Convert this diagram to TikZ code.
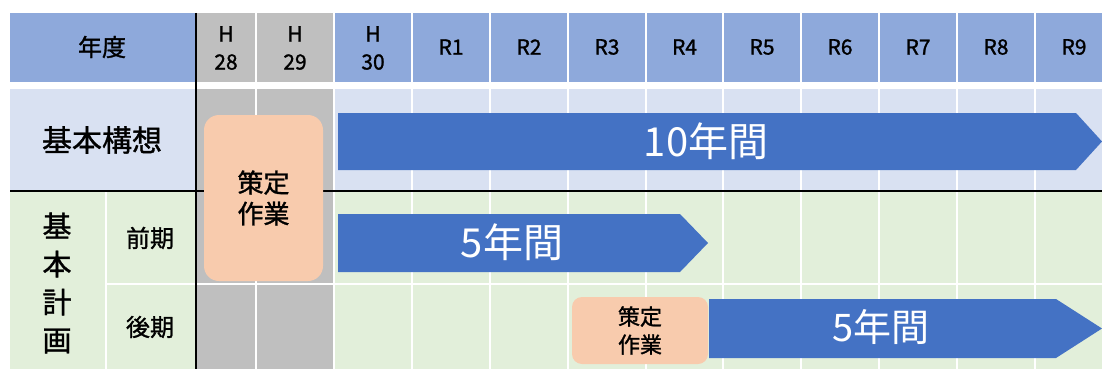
\documentclass[tikz,border=0pt]{standalone}
\usepackage{fontspec}
\setmainfont{Noto Sans CJK JP}
\newfontfamily\medfont[FakeBold=1.2]{Noto Sans CJK JP}
\definecolor{hdr}{HTML}{8EA9DB}
\definecolor{rowb}{HTML}{D9E1F2}
\definecolor{rowg}{HTML}{E2EFDA}
\definecolor{graycol}{HTML}{BFBFBF}
\definecolor{orangebox}{HTML}{F8CBAD}
\definecolor{barblue}{HTML}{4472C4}
\begin{document}
\begin{tikzpicture}[x=1pt,y=-1pt,
  lbl/.style={inner sep=0pt, align=center, text=black},
  yr/.style={lbl, font=\medfont\fontsize{21}{28}\selectfont},
  barlbl/.style={inner sep=0pt, text=white, font=\fontsize{40}{44}\selectfont},
  workbox/.style={fill=orangebox, draw=none, inner sep=0pt, align=center, text=black},
  bar/.style={fill=barblue},
  blackline/.style={draw=black, line width=1.6pt}]
\useasboundingbox (0,0) rectangle (1102,369);
\fill[white] (0,0) rectangle (1102,369);
\clip (0,0) rectangle (1102,369);
% left column cells
\fill[hdr] (10,13) rectangle (195,82);
\fill[rowb] (10,89) rectangle (195,191);
\fill[rowg] (10,192) rectangle (105,372);
\fill[rowg] (107,192) rectangle (195,283);
\fill[rowg] (107,285) rectangle (195,372);
% gray columns (H28, H29)
\foreach \a/\b in {197/255, 257/333} {
  \fill[graycol] (\a,13) rectangle (\b,82);
  \fill[graycol] (\a,89) rectangle (\b,191);
  \fill[graycol] (\a,192) rectangle (\b,283);
  \fill[graycol] (\a,285) rectangle (\b,372);
}
% year columns H30 .. R9
\foreach \a/\b in {335/411, 413/489, 491/567, 569/645, 647/722, 724/800, 802/878, 880/956, 958/1034, 1036/1112} {
  \fill[hdr] (\a,13) rectangle (\b,82);
  \fill[rowb] (\a,89) rectangle (\b,191);
  \fill[rowg] (\a,192) rectangle (\b,283);
  \fill[rowg] (\a,285) rectangle (\b,372);
}
% black lines
\draw[blackline] (196,13) -- (196,372);
\draw[blackline] (10,191) -- (1102,191);
% header labels
\node[lbl, font=\medfont\fontsize{24}{28}\selectfont] (nendo) at (102,47) {年度};
\node[yr] (h28) at (226,48) {H\\28};
\node[yr] (h29) at (295,48) {H\\29};
\node[yr] (h30) at (373,48) {H\\30};
\node[yr] (r1) at (451,47) {R1};
\node[yr] (r2) at (529,47) {R2};
\node[yr] (r3) at (607,47) {R3};
\node[yr] (r4) at (684.5,47) {R4};
\node[yr] (r5) at (762,47) {R5};
\node[yr] (r6) at (840,47) {R6};
\node[yr] (r7) at (918,47) {R7};
\node[yr] (r8) at (996,47) {R8};
\node[yr] (r9) at (1074,47) {R9};
% row labels
\node[lbl, font=\medfont\fontsize{30}{34}\selectfont] (koso) at (102,140) {基本構想};
\node[lbl, font=\medfont\fontsize{29}{38}\selectfont] (keikaku) at (57,283) {基\\本\\計\\画};
\node[lbl, font=\medfont\fontsize{24}{28}\selectfont] (zenki) at (150,238) {前期};
\node[lbl, font=\medfont\fontsize{24}{28}\selectfont] (koki) at (150,327) {後期};
% work boxes
\node[workbox, minimum width=119pt, minimum height=166pt, rounded corners=15pt,
      font=\medfont\fontsize{26}{31}\selectfont] (work1) at (263.5,198) {策定\\作業};
\node[workbox, minimum width=136pt, minimum height=67pt, rounded corners=10pt,
      font=\medfont\fontsize{22}{28}\selectfont] (work2) at (640,330.5) {策定\\作業};
% bars
\fill[bar] (338,113) -- (1076,113) -- (1102,141.5) -- (1076,170) -- (338,170) -- cycle;
\node[barlbl] (ten) at (706,141) {10年間};
\fill[bar] (338,214) -- (680,214) -- (708,243) -- (680,272) -- (338,272) -- cycle;
\node[barlbl] (fivea) at (512,242) {5年間};
\fill[bar] (709,299) -- (1056,299) -- (1102,328.5) -- (1056,358) -- (709,358) -- cycle;
\node[barlbl, font=\fontsize{38}{42}\selectfont] (fiveb) at (881,327) {5年間};
\end{tikzpicture}
\end{document}
